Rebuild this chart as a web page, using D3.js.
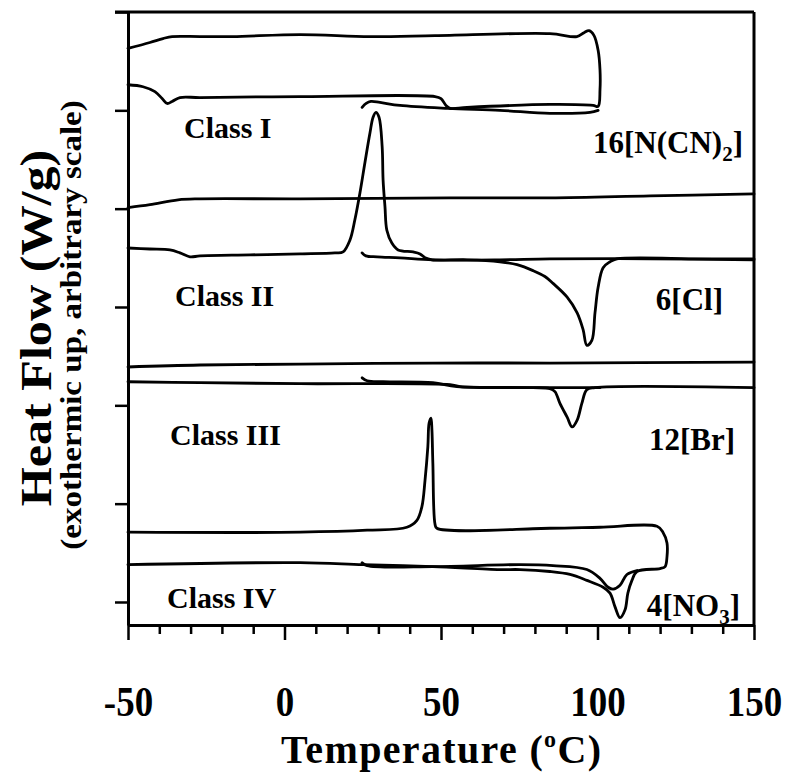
<!DOCTYPE html>
<html>
<head>
<meta charset="utf-8">
<script src="https://d3js.org/d3.v7.min.js"></script>
<style>
  body { margin: 0; background: #fff; }
  text { font-family: "Liberation Serif", "Times New Roman", serif; font-weight: bold; fill: #000; }
</style>
</head>
<body>
<div id="chart"></div>
<script>
// DSC traces, [temperature (C), heat flow (arbitrary units, one unit per y tick)]
// 16[N(CN)2] : heating from -50, turn-around at 100, cooling back to -50
var dca_cycle = [[-50,5.26],[-45.2,5.24],[-41.4,5.19],[-39.1,5.12],[-37.5,5.07],[-35.9,5.09],[-33.4,5.13],
  [-27,5.13],[5,5.14],[48.1,5.14],[50,5.12],[51.6,5.05],[52.9,5.02],[58.3,5.03],[84.8,5.06],[98.6,5.05],[100.2,5.04],
  [100.8,5.21],[100.8,5.41],[100.2,5.61],[98.9,5.76],[97.3,5.81],[95.7,5.79],[93.4,5.75],
  [84.8,5.78],[48.1,5.76],[27.3,5.75],[5,5.77],[-16.5,5.75],[-27,5.75],[-35.9,5.75],[-38.8,5.73],[-43,5.69],[-50,5.63]];
var dca_first = [[24.8,5.03],[26.1,5.07],[27.6,5.09],[30.5,5.08],[36.9,5.05],[52.2,5.02],[68.8,5.0],[84.8,4.97],[97.6,4.98],[100.2,5.0]];

// 6[Cl]
var cl_cool = [[-50,4.01],[-43,4.04],[-34,4.09],[-27,4.10],[5,4.10],[52.9,4.11],[84.8,4.11],[116.8,4.13],[150,4.15]];
var cl_heat = [[-50,3.60],[-43,3.59],[-36.6,3.58],[-33.4,3.55],[-30.2,3.51],[-27,3.52],[-11,3.53],[5,3.54],[16.1,3.55],
  [18.7,3.56],[20.9,3.68],[22.5,3.89],[24.1,4.16],[25.7,4.47],[27.3,4.77],[28.3,4.93],[29.2,4.98],[30.2,4.93],
  [31.2,4.63],[31.5,4.29],[32.1,4.02],[32.7,3.78],[34.3,3.65],[36.3,3.58],[41.1,3.56],[43.3,3.54],[44.9,3.50],[47.1,3.48],
  [58.3,3.48],[68.8,3.46],[74.3,3.43],[79.4,3.37],[83.2,3.31],[85.8,3.24],[90.3,3.10],[93.5,2.94],[95.4,2.77],[96.6,2.61],
  [98.2,2.66],[99.2,2.94],[100.2,3.20],[101.8,3.40],[104,3.46],[106.2,3.49],[132.7,3.49],[150,3.49]];
var cl_first = [[24.8,3.55],[26,3.52],[29.6,3.51],[36.9,3.50],[47.4,3.48],[68.8,3.48],[84.8,3.49],[116.8,3.49],[150,3.48]];

// 12[Br]
var br_cool = [[-50,2.39],[-27,2.41],[5,2.42],[47.4,2.43],[84.8,2.43],[150,2.44]];
var br_heat = [[-50,2.24],[-27,2.23],[5,2.22],[52.9,2.21],[56.1,2.19],[79.4,2.18],[84.8,2.17],[86.4,2.14],[88,2.02],
  [90.3,1.88],[91.9,1.78],[93.5,1.85],[95,2.02],[96.6,2.16],[99.2,2.18],[150,2.18]];
var br_first = [[24.8,2.28],[26.4,2.25],[31.5,2.24],[47.4,2.23],[55.1,2.19],[79.4,2.18],[100.8,2.18]];

// 4[NO3]
var no3_cycle = [[-50,0.38],[5,0.40],[25.1,0.38],[47.4,0.36],[68.8,0.33],[75.2,0.33],[84.8,0.31],[91.2,0.28],[96.6,0.22],
  [101.8,0.15],[104,0.09],[105.6,-0.05],[107.2,-0.16],[108.8,-0.08],[109.7,0.09],[111,0.22],[112.6,0.31],
  [120,0.34],[121.6,0.36],[122.2,0.46],[122.2,0.60],[120.9,0.71],[119,0.77],
  [100.8,0.76],[84.8,0.75],[48.7,0.75],[48.1,0.79],[47.4,1.41],[47.1,1.75],[46.8,1.87],[46.2,1.82],[45.8,1.58],
  [44.9,1.24],[43.9,0.97],[42.3,0.83],[39.1,0.76],[26.4,0.73],[5,0.71],[-50,0.71]];
var no3_first = [[24.8,0.40],[26.4,0.37],[47.4,0.36],[75.2,0.38],[85.8,0.37],[96.6,0.33],[100.8,0.24],[103.4,0.15],
  [105,0.13],[107.2,0.17],[109.4,0.28],[112.6,0.32]];

var traces = [dca_cycle, dca_first, cl_cool, cl_heat, cl_first, br_cool, br_heat, br_first, no3_cycle, no3_first];

var xMajor = [-50, 0, 50, 100, 150];
var xMinor = [-40, -30, -20, -10, 10, 20, 30, 40, 60, 70, 80, 90, 110, 120, 130, 140];
var yTicks = [0, 1, 2, 3, 4, 5, 6];

var width = 786, height = 774;
var margin = {left: 128, right: 32, top: 12, bottom: 149};

var svg = d3.select("#chart").append("svg")
    .attr("width", width)
    .attr("height", height);

var x = d3.scaleLinear().domain([-50, 150]).range([margin.left, width - margin.right]);
var y = d3.scaleLinear().domain([-0.234, 6]).range([height - margin.bottom, margin.top]);

// frame: top and right lines
svg.append("line")
    .attr("x1", x(-50) - 13).attr("x2", x(150))
    .attr("y1", y(6)).attr("y2", y(6))
    .attr("stroke", "#000").attr("stroke-width", 3);
svg.append("line")
    .attr("x1", x(150)).attr("x2", x(150))
    .attr("y1", y(6)).attr("y2", y(-0.234))
    .attr("stroke", "#000").attr("stroke-width", 3);

// left axis, no labels
var yAxis = svg.append("g")
    .attr("transform", "translate(" + x(-50) + ",0)")
    .call(d3.axisLeft(y).tickValues(yTicks).tickSize(13).tickSizeOuter(0).tickFormat(""));

// bottom axis: minor and major ticks
var xMinorAxis = svg.append("g")
    .attr("transform", "translate(0," + y(-0.234) + ")")
    .call(d3.axisBottom(x).tickValues(xMinor).tickSize(9).tickSizeOuter(0).tickFormat(""));
var xAxis = svg.append("g")
    .attr("transform", "translate(0," + y(-0.234) + ")")
    .call(d3.axisBottom(x).tickValues(xMajor).tickSize(15).tickSizeOuter(0).tickPadding(45)
      .tickFormat(function(d) { return d < 0 ? "-" + Math.abs(d) : String(d); }));

svg.selectAll(".domain").attr("stroke-width", 3);
svg.selectAll(".tick line").attr("stroke-width", 2.5);
xAxis.selectAll("text")
    .attr("font-size", 43)
    .attr("transform", "scale(0.86,1)")
    .style("font-family", "'Liberation Serif', serif")
    .style("font-weight", "bold");

// traces
var line = d3.line()
    .x(function(d) { return x(d[0]); })
    .y(function(d) { return y(d[1]); })
    .curve(d3.curveCatmullRom.alpha(0.5));

svg.append("g").selectAll("path")
    .data(traces)
    .enter()
    .append("path")
      .attr("d", line)
      .attr("fill", "none")
      .attr("stroke", "#000")
      .attr("stroke-width", 2.8)
      .attr("stroke-linejoin", "round")
      .attr("stroke-linecap", "round");

// class labels on the left
var classLabels = [["Class I", 184, 138], ["Class II", 175, 306], ["Class III", 170, 445], ["Class IV", 167, 608]];
svg.selectAll(".cls")
    .data(classLabels)
    .enter()
    .append("text")
      .attr("class", "cls")
      .attr("x", function(d) { return d[1]; })
      .attr("y", function(d) { return d[2]; })
      .attr("font-size", 30)
      .text(function(d) { return d[0]; });

// compound labels on the right
function compound(main, sub, close, yBase, right) {
  var t = svg.append("text")
      .attr("x", right)
      .attr("y", yBase)
      .attr("text-anchor", "end")
      .attr("font-size", 31);
  t.append("tspan").text(main);
  if (sub) {
    t.append("tspan").attr("font-size", 21).attr("dy", 8).text(sub);
    t.append("tspan").attr("dy", -8).text(close);
  }
}
compound("16[N(CN)", "2", "]", 153, 743);
compound("6[Cl]", null, null, 310, 723);
compound("12[Br]", null, null, 450, 735);
compound("4[NO", "3", "]", 616, 740);

// axis titles
var xt = svg.append("text")
    .attr("x", 441)
    .attr("y", 763)
    .attr("text-anchor", "middle")
    .attr("font-size", 40)
    .attr("textLength", 320);
xt.append("tspan").text("Temperature (");
xt.append("tspan").attr("font-size", 24).attr("dy", -16).text("o");
xt.append("tspan").attr("dy", 16).text("C)");

svg.append("text")
    .attr("transform", "translate(51,328) rotate(-90) scale(1.14,1)")
    .attr("text-anchor", "middle")
    .attr("font-size", 44)
    .text("Heat Flow (W/g)");

svg.append("text")
    .attr("transform", "translate(81,325) rotate(-90) scale(1.14,1)")
    .attr("text-anchor", "middle")
    .attr("font-size", 29)
    .text("(exothermic up, arbitrary scale)");
</script>
</body>
</html>
